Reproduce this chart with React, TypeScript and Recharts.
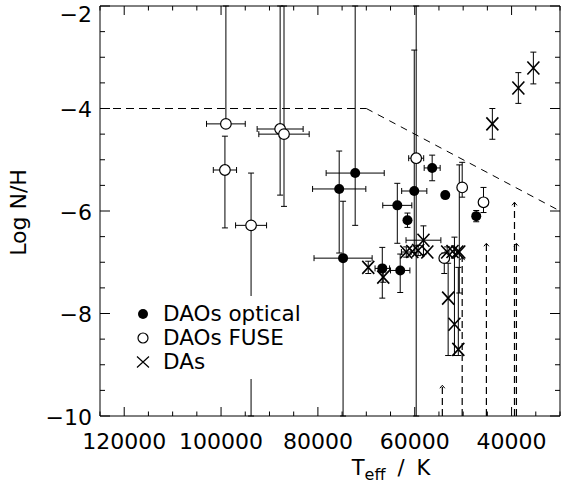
import React from 'react';
import { ComposedChart, Scatter, XAxis, YAxis, ErrorBar, ReferenceLine, Legend, Label } from 'recharts';

const FONT = '"DejaVu Sans", "Liberation Sans", sans-serif';

// ---- axis ranges & tick values ----
const xDomain = [30000, 125000];
const yDomain = [-10, -2];
const xMajorTicks = [120000, 100000, 80000, 60000, 40000];
const xAllTicks = [30000, 35000, 40000, 45000, 50000, 55000, 60000, 65000, 70000, 75000, 80000, 85000, 90000, 95000, 100000, 105000, 110000, 115000, 120000, 125000];
const yMajorTicks = [-10, -8, -6, -4, -2];
const yAllTicks = [-10, -9.5, -9, -8.5, -8, -7.5, -7, -6.5, -6, -5.5, -5, -4.5, -4, -3.5, -3, -2.5, -2];

// ---- DAOs optical (filled circles) ----
const opticalT = [72300, 75600, 74800, 60100, 56400, 53700, 63600, 61500, 47300, 66700, 63000];
const opticalLogNH = [-5.26, -5.57, -6.92, -5.61, -5.16, -5.69, -5.89, -6.18, -6.1, -7.12, -7.16];
const opticalTErr = [6000, 5500, 6000, 2600, 1650, 0, 3000, 0, 0, 1500, 2000];
const opticalErrLow = [1.02, 1.25, 5, 1.2, 0.25, 0, 0.74, 0.14, 0.11, 0.58, 0.43];
const opticalErrHigh = [5, 0.74, 1.11, 2.75, 0.25, 0, 0.43, 0.14, 0.11, 0.41, 0.32];

// ---- DAOs FUSE (open circles) ----
const fuseT = [99000, 99200, 93800, 87800, 87000, 59700, 50200, 45800, 53900];
const fuseLogNH = [-4.3, -5.2, -6.28, -4.4, -4.5, -4.97, -5.54, -5.83, -6.92];
const fuseTErr = [4000, 2400, 3200, 4750, 5200, 1550, 0, 0, 0];
const fuseErrLow = [0.01, 1.13, 5, 1.29, 1.41, 6, 0.19, 0.2, 0.3];
const fuseErrHigh = [3, 0.66, 1.02, 3, 3, 4, 0.49, 0.29, 0.1];

// ---- DAs (crosses) ----
const daT = [43970, 38600, 35500, 69600, 66500, 61750, 60500, 59300, 58200, 57400, 53300, 52200, 51200, 50800, 53100, 51800, 51000];
const daLogNH = [-4.3, -3.6, -3.21, -7.1, -7.29, -6.8, -6.79, -6.77, -6.57, -6.8, -6.8, -6.79, -6.8, -6.8, -7.7, -8.21, -8.7];
const daTErr = [0, 0, 0, 0, 0, 1000, 0, 0, 3600, 0, 0, 0, 0, 0, 0, 0, 0];
const daErrLow = [0.3, 0.3, 0.31, 0.12, 0.1, 0.1, 0, 0.1, 0.28, 0, 0, 0, 0, 0.8, 1.12, 0.61, 0.12];
const daErrHigh = [0.3, 0.3, 0.31, 0.12, 0.1, 0.1, 0, 0.1, 0.28, 0, 0.1, 0, 0, 1.7, 0.68, 1.7, 1.6];

// ---- limits (dashed arrows from the bottom) ----
const limitT = [54300, 50200, 45200, 39400, 39000];
const limitLogNH = [-9.4, -6.9, -6.63, -5.83, -6.63];

// ---- dashed boundary ----
const boundaryT = [125000, 70000, 30000];
const boundaryLogNH = [-4, -4, -6];

const legendLabels = ['DAOs optical', 'DAOs FUSE', 'DAs'];

// error bars that run off the plot are cut at the frame
const build = (ts: number[], ns: number[], te: number[], lo: number[], hi: number[]) =>
  ts.map((t, i) => {
    const n = ns[i];
    const l = Math.min(lo[i], n - yDomain[0]);
    const h = Math.min(hi[i], yDomain[1] - n);
    return {
      t,
      n,
      tErr: te[i] ? te[i] : undefined,
      nErr: lo[i] || hi[i] ? [l, h] : undefined,
    };
  });

const opticalData = build(opticalT, opticalLogNH, opticalTErr, opticalErrLow, opticalErrHigh);
const fuseData = build(fuseT, fuseLogNH, fuseTErr, fuseErrLow, fuseErrHigh);
const daData = build(daT, daLogNH, daTErr, daErrLow, daErrHigh);
const limitData = limitT.map((t, i) => ({ t, n: limitLogNH[i] }));

const fmt = (v: number) => (v < 0 ? '\u2212' + Math.abs(v) : String(v));

function BottomTick(props: any) {
  const { x, y, payload } = props;
  const v = payload.value;
  const major = xMajorTicks.includes(v);
  return (
    <g>
      <line x1={x} y1={y} x2={x} y2={y - (major ? 9 : 4.5)} stroke="#000" strokeWidth={1} />
      {major && (
        <text x={x} y={y + 33} textAnchor="middle" fontFamily={FONT} fontSize={22} fill="#000">
          {v}
        </text>
      )}
    </g>
  );
}

function TopTick(props: any) {
  const { x, y, payload } = props;
  const major = xMajorTicks.includes(payload.value);
  return <line x1={x} y1={y} x2={x} y2={y + (major ? 9 : 4.5)} stroke="#000" strokeWidth={1} />;
}

function LeftTick(props: any) {
  const { x, y, payload } = props;
  const v = payload.value;
  const major = yMajorTicks.includes(v);
  return (
    <g>
      <line x1={x} y1={y} x2={x + (major ? 10 : 5)} y2={y} stroke="#000" strokeWidth={1} />
      {major && (
        <text x={x - 8} y={y + (v === -2 ? 15.5 : 8.5)} textAnchor="end" fontFamily={FONT} fontSize={22} fill="#000">
          {fmt(v)}
        </text>
      )}
    </g>
  );
}

function RightTick(props: any) {
  const { x, y, payload } = props;
  const major = yMajorTicks.includes(payload.value);
  return <line x1={x} y1={y} x2={x - (major ? 10 : 5)} y2={y} stroke="#000" strokeWidth={1} />;
}

function XTitle(props: any) {
  const vb = props.viewBox || { x: 100, y: 416, width: 460, height: 69 };
  return (
    <text x={vb.x + vb.width / 2 + 61} y={vb.y + 59} textAnchor="middle" fontFamily={FONT} fontSize={21} fill="#000">
      <tspan>T</tspan>
      <tspan dy={5} fontSize={16}>eff</tspan>
      <tspan dy={-5} dx={12}>/</tspan>
      <tspan dx={12}>K</tspan>
    </text>
  );
}

function YTitle(props: any) {
  const vb = props.viewBox || { x: 0, y: 6, width: 100, height: 410 };
  const cx = 26;
  const cy = vb.y + vb.height / 2 + 1.5;
  return (
    <text x={cx} y={cy} transform={`rotate(-90, ${cx}, ${cy})`} textAnchor="middle" fontFamily={FONT} fontSize={22} fill="#000">
      Log N/H
    </text>
  );
}

const FilledDot = (p: any) => <circle cx={p.cx} cy={p.cy} r={5} fill="#000" />;
const OpenDot = (p: any) => <circle cx={p.cx} cy={p.cy} r={5.3} fill="#fff" stroke="#000" strokeWidth={1.2} />;
const Cross = (p: any) => (
  <path
    d={`M${p.cx - 6},${p.cy - 6.5}L${p.cx + 6},${p.cy + 6.5}M${p.cx - 6},${p.cy + 6.5}L${p.cx + 6},${p.cy - 6.5}`}
    stroke="#000"
    strokeWidth={1.6}
    fill="none"
  />
);
const Caret = (p: any) => (
  <path d={`M${p.cx - 2.5},${p.cy + 3}L${p.cx},${p.cy}L${p.cx + 2.5},${p.cy + 3}`} stroke="#000" strokeWidth={1} fill="none" />
);

function LegendBox() {
  const rows = [18, 42, 66];
  return (
    <svg width={182} height={83} style={{ display: 'block', background: '#fff' }}>
      <circle cx={13} cy={rows[0]} r={5} fill="#000" />
      <circle cx={13} cy={rows[1]} r={5} fill="#fff" stroke="#000" strokeWidth={1.2} />
      <path d={`M7,${rows[2] - 5.5}L19,${rows[2] + 5.5}M7,${rows[2] + 5.5}L19,${rows[2] - 5.5}`} stroke="#000" strokeWidth={1.2} />
      {legendLabels.map((l, i) => (
        <text key={l} x={33} y={rows[i] + 6.5} fontFamily={FONT} fontSize={21.5} fill="#000">
          {l}
        </text>
      ))}
    </svg>
  );
}

const errProps = { stroke: '#000', strokeWidth: 1, width: 3 };

export default function App() {
  return (
    <div style={{ position: 'absolute', left: 0, top: 0, width: 561, height: 485, background: '#fff' }}>
      <ComposedChart width={561} height={485} margin={{ top: 5, right: 0, bottom: 0, left: 0 }}>
        <XAxis
          dataKey="t"
          type="number"
          domain={xDomain}
          reversed
          allowDataOverflow
          ticks={xAllTicks}
          interval={0}
          tickSize={0}
          tickMargin={0}
          tickLine={false}
          tick={<BottomTick />}
          axisLine={{ stroke: '#000', strokeWidth: 1 }}
          height={69}
        >
          <Label content={<XTitle />} />
        </XAxis>
        <XAxis
          xAxisId="top"
          orientation="top"
          dataKey="t"
          type="number"
          domain={xDomain}
          reversed
          allowDataOverflow
          ticks={xAllTicks}
          interval={0}
          tickSize={0}
          tickMargin={0}
          tickLine={false}
          tick={<TopTick />}
          axisLine={{ stroke: '#000', strokeWidth: 1 }}
          height={1}
        />
        <YAxis
          dataKey="n"
          type="number"
          domain={yDomain}
          allowDataOverflow
          ticks={yAllTicks}
          interval={0}
          tickSize={0}
          tickMargin={0}
          tickLine={false}
          tick={<LeftTick />}
          axisLine={{ stroke: '#000', strokeWidth: 1 }}
          width={100}
        >
          <Label content={<YTitle />} />
        </YAxis>
        <YAxis
          yAxisId="right"
          orientation="right"
          dataKey="n"
          type="number"
          domain={yDomain}
          allowDataOverflow
          ticks={yAllTicks}
          interval={0}
          tickSize={0}
          tickMargin={0}
          tickLine={false}
          tick={<RightTick />}
          axisLine={{ stroke: '#000', strokeWidth: 1 }}
          width={1}
        />

        <ReferenceLine
          segment={[{ x: boundaryT[0], y: boundaryLogNH[0] }, { x: boundaryT[1], y: boundaryLogNH[1] }]}
          stroke="#000"
          strokeDasharray="8 5"
          strokeWidth={1}
        />
        <ReferenceLine
          segment={[{ x: boundaryT[1], y: boundaryLogNH[1] }, { x: boundaryT[2], y: boundaryLogNH[2] }]}
          stroke="#000"
          strokeDasharray="7 6"
          strokeWidth={1}
        />
        {limitT.map((t, i) => (
          <ReferenceLine
            key={'lim' + i}
            segment={[{ x: t, y: yDomain[0] }, { x: t, y: limitLogNH[i] }]}
            stroke="#000"
            strokeDasharray="7 4"
            strokeWidth={1.2}
          />
        ))}

        <Scatter name="DAOs optical" data={opticalData} shape={FilledDot} isAnimationActive={false}>
          <ErrorBar dataKey="nErr" direction="y" {...errProps} />
          <ErrorBar dataKey="tErr" direction="x" {...errProps} />
        </Scatter>
        <Scatter name="DAOs FUSE" data={fuseData} shape={OpenDot} isAnimationActive={false}>
          <ErrorBar dataKey="nErr" direction="y" {...errProps} />
          <ErrorBar dataKey="tErr" direction="x" {...errProps} />
        </Scatter>
        <Scatter name="DAs" data={daData} shape={Cross} isAnimationActive={false}>
          <ErrorBar dataKey="nErr" direction="y" {...errProps} />
          <ErrorBar dataKey="tErr" direction="x" {...errProps} />
        </Scatter>
        <Scatter name="limits" data={limitData} shape={Caret} isAnimationActive={false} legendType="none" />

        <Legend
          layout="vertical"
          align="center"
          verticalAlign="middle"
          content={() => <LegendBox />}
          wrapperStyle={{ position: 'absolute', left: 130, top: 296, width: 182, height: 83, background: '#fff' }}
        />
      </ComposedChart>
    </div>
  );
}
